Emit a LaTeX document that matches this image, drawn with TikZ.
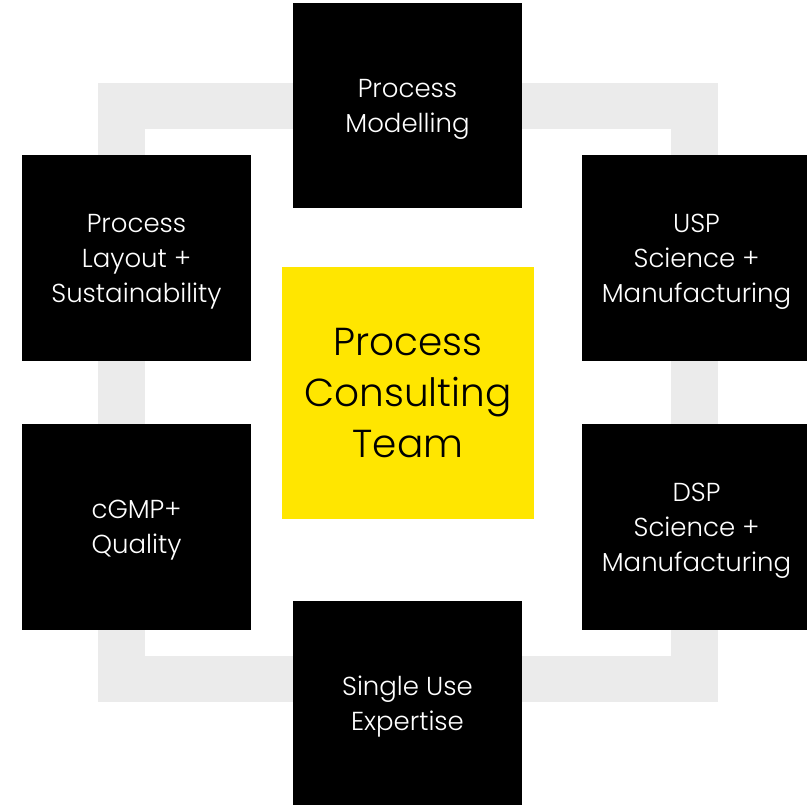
\documentclass[tikz,border=0pt]{standalone}
\usepackage{fontspec}
\setmainfont{Poppins}[UprightFont=* Light]
\definecolor{frame}{HTML}{EBEBEB}
\definecolor{eyyellow}{HTML}{FFE600}
\tikzset{
  blackbox/.style={fill=black, text=white, draw=none, inner sep=0pt, align=center,
    font=\fontsize{26}{35}\selectfont, text depth=-1.5pt},
  centerbox/.style={fill=eyyellow, text=black, draw=none, inner sep=0pt, align=center,
    minimum width=252pt, minimum height=252pt, font=\fontsize{39}{51}\selectfont},
}
\begin{document}
\begin{tikzpicture}[x=1pt,y=-1pt]
\useasboundingbox (0,0) rectangle (807,805);
% gray frame
\draw[frame, line width=46.5pt] (121.5,106) rectangle (694.5,679);
% boxes
\node[blackbox, minimum width=229pt, minimum height=205pt] (top) at (407.5,105.5) {Process\\Modelling};
\node[blackbox, minimum width=229pt, minimum height=206pt] (lu) at (136.5,258) {Process\\Layout +\\Sustainability};
\node[blackbox, minimum width=229pt, minimum height=206pt] (ru) at (696.5,258) {USP\\Science +\\Manufacturing};
\node[blackbox, minimum width=229pt, minimum height=206pt] (ll) at (136.5,527) {cGMP+\\Quality};
\node[blackbox, minimum width=229pt, minimum height=206pt] (rl) at (696.5,527) {DSP\\Science +\\Manufacturing};
\node[blackbox, minimum width=229pt, minimum height=205pt] (bot) at (407.5,703.5) {Single Use\\Expertise};
\node[centerbox] (c) at (408,393) {Process\\Consulting\\Team};
\end{tikzpicture}
\end{document}
